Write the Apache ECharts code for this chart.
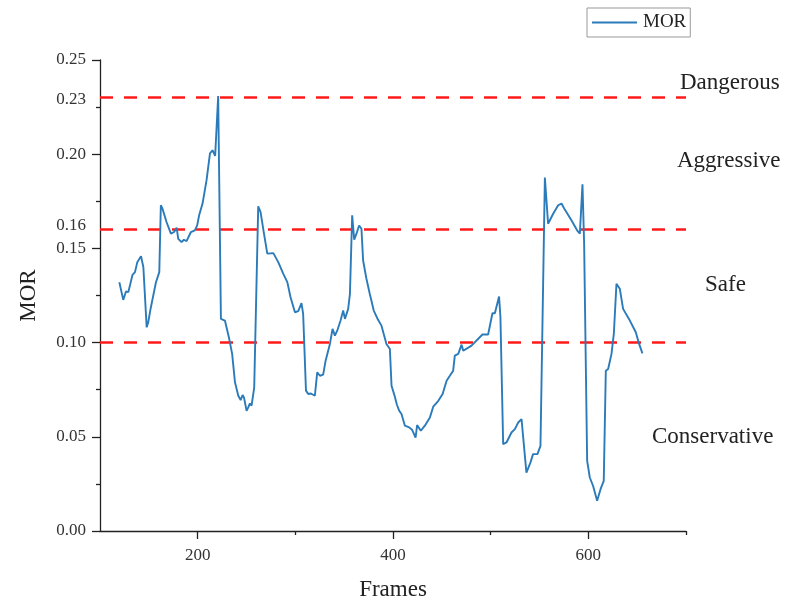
<!DOCTYPE html>
<html>
<head>
<meta charset="utf-8">
<script src="https://cdn.jsdelivr.net/npm/echarts@6/dist/echarts.min.js"></script>
<style>html,body{margin:0;padding:0;background:#fff;}#c{width:789px;height:603px;}</style>
</head>
<body>
<div id="c"></div>
<script>
const frames = [119.8,123.8,126.6,129,133.3,135.8,138.2,142,144.4,147.8,149.4,151.8,153.8,157.3,160.7,162.3,164,168.1,172.6,175.9,178.5,180.1,183.5,185.9,188.6,193.1,197.1,199.5,201.5,205,209.1,212.6,215.2,217.9,221,223.8,227.9,232.3,235.3,238.2,241.6,244,246,247.4,250.1,251.8,253.5,255.2,257.9,262,264.4,267.9,271.3,277.5,282.5,287.7,291.8,295.1,299.6,303,306.3,308,310.9,313.2,315.9,320,322.4,325.2,328.5,331,333,335.4,338.1,340.5,343.2,346.3,349,350.8,354.1,355.9,358.2,360.3,362.6,365.3,367.7,369.4,372.8,376.2,380.3,384.7,388.2,393.3,396.8,398.5,401.5,404,406.4,408.7,412.2,416.6,419.7,423.1,424.7,428.5,432.6,437.8,441.2,446.4,450.8,454.9,458.2,461.6,463.3,465,466.8,468.5,470.2,471.9,480.4,491.6,497.4,501.8,504.3,508.6,510,512.8,516.2,521.3,524.8,528.2,531.6,533.2,536.6,538.3,540.7,543.4,547.9,551,555.5,558.8,564,569.1,572.5,575.9,582.7,588.5,591.3,594,595.7,598.8,601.5,604.9,609,612.5,615.8,617.9,620.3,623.7,626.1,628.8,632.2,635.6,642.5,648.6,652,655.4];
const mor = [0.132,0.1227,0.1271,0.1268,0.136,0.1374,0.1427,0.1459,0.140,0.1081,0.1108,0.118,0.1188,0.132,0.1374,0.1729,0.1711,0.164,0.1578,0.1587,0.161,0.1551,0.1533,0.1546,0.1539,0.1587,0.1596,0.1622,0.1676,0.1738,0.1862,0.2004,0.2021,0.1991,0.2309,0.1126,0.1117,0.102,0.094,0.0789,0.0718,0.0695,0.0722,0.0709,0.0638,0.0656,0.0677,0.0665,0.0762,0.1723,0.1693,0.1578,0.1472,0.1475,0.1427,0.1365,0.1321,0.1241,0.1161,0.1167,0.1209,0.1153,0.0745,0.0727,0.073,0.0718,0.0842,0.0824,0.083,0.0904,0.0913,0.0993,0.1073,0.1037,0.1068,0.1117,0.117,0.1126,0.1179,0.1259,0.1676,0.1546,0.1578,0.1622,0.1604,0.1436,0.1339,0.1259,0.117,0.1121,0.109,0.0993,0.0966,0.0771,0.072,0.067,0.0638,0.0621,0.0559,0.055,0.0536,0.0496,0.0562,0.0532,0.0559,0.0603,0.066,0.0691,0.0727,0.0798,0.0824,0.0851,0.0931,0.0922,0.094,0.0931,0.0989,0.0957,0.0984,0.1043,0.1043,0.1156,0.1156,0.1245,0.1135,0.0461,0.047,0.0523,0.0541,0.0576,0.0594,0.06,0.031,0.0302,0.0363,0.0408,0.0408,0.0452,0.1876,0.1631,0.1684,0.1729,0.1738,0.1706,0.1649,0.1596,0.1578,0.184,0.1525,0.0372,0.0284,0.0239,0.016,0.0222,0.0266,0.0851,0.086,0.094,0.1046,0.1312,0.1286,0.1179,0.1117,0.1055,0.0993,0.0943];
const thresholds = [0.10, 0.162, 0.229];
const yLabelValues = [0, 0.05, 0.10, 0.15, 0.162, 0.20, 0.229, 0.25];
const yMajorTicks = [0, 0.05, 0.10, 0.15, 0.20, 0.25];
const yMinorTicks = [0.025, 0.075, 0.125, 0.175, 0.225];
const xMajorTicks = [200, 400, 600];
const xMinorTicks = [300, 500, 700];
const zoneNames = ['Dangerous', 'Aggressive', 'Safe', 'Conservative'];

const FONT = 'Liberation Serif';
const chart = echarts.init(document.getElementById('c'), null, {renderer: 'canvas'});
const axisLineStyle = {color: '#222', width: 1.3};
const textColor = '#333';
const BLUE = '#2b7bba';

chart.setOption({
  animation: false,
  backgroundColor: '#fff',
  textStyle: {fontFamily: FONT},
  grid: {left: 100, right: 103, top: 60, bottom: 72, containLabel: false, outerBoundsMode: 'none'},
  legend: {
    left: 587, top: 8,
    data: [{name: 'MOR', icon: 'rect'}],
    itemWidth: 45, itemHeight: 2, itemGap: 5,
    padding: [5, 4, 5, 5],
    borderColor: '#999', borderWidth: 1, borderRadius: 0,
    textStyle: {fontFamily: FONT, fontSize: 19, color: '#222', padding: [0, 0, 0, 1], lineHeight: 19}
  },
  xAxis: [
    {
      type: 'value', min: 100, max: 700, interval: 100,
      name: 'Frames', nameLocation: 'middle', nameGap: 47,
      nameTextStyle: {fontFamily: FONT, fontSize: 23, color: '#222'},
      axisLine: {show: true, onZero: false, lineStyle: axisLineStyle},
      axisTick: {show: true, length: 8, customValues: xMajorTicks, lineStyle: axisLineStyle},
      axisLabel: {margin: 16, fontSize: 17, color: textColor, fontFamily: FONT, customValues: xMajorTicks},
      splitLine: {show: false}
    },
    {
      type: 'value', min: 100, max: 700, interval: 100, position: 'bottom',
      axisLine: {show: false},
      axisTick: {show: true, length: 4, customValues: xMinorTicks, lineStyle: axisLineStyle},
      axisLabel: {show: false},
      splitLine: {show: false}
    }
  ],
  yAxis: [
    {
      type: 'value', min: 0, max: 0.25, interval: 0.05,
      name: 'MOR', nameLocation: 'middle', nameGap: 60, nameRotate: 90,
      nameTextStyle: {fontFamily: FONT, fontSize: 23, color: '#222'},
      axisLine: {show: true, onZero: false, lineStyle: axisLineStyle},
      axisTick: {show: true, length: 8, customValues: yMajorTicks, lineStyle: axisLineStyle},
      axisLabel: {
        margin: 14, fontSize: 17, color: textColor, fontFamily: FONT,
        customValues: yLabelValues,
        formatter: v => v.toFixed(2)
      },
      splitLine: {show: false}
    },
    {
      type: 'value', min: 0, max: 0.25, interval: 0.05, position: 'left',
      axisLine: {show: false},
      axisTick: {show: true, length: 4, customValues: yMinorTicks, lineStyle: axisLineStyle},
      axisLabel: {show: false},
      splitLine: {show: false}
    }
  ],
  series: [{
    name: 'MOR',
    type: 'line',
    xAxisIndex: 0, yAxisIndex: 0,
    data: frames.map((f, i) => [f, mor[i]]),
    symbol: 'none', showSymbol: false,
    lineStyle: {color: BLUE, width: 1.9},
    itemStyle: {color: BLUE},
    z: 3,
    markLine: {
      silent: true, symbol: 'none',
      label: {show: false},
      lineStyle: {color: '#ff1a1a', type: [13, 11], width: 2.6},
      data: thresholds.map(t => ({yAxis: t})),
      z: 2
    }
  }],
  graphic: [
    {type: 'text', left: 680, top: 71, style: {text: zoneNames[0], font: '23px "Liberation Serif"', fill: '#222'}},
    {type: 'text', left: 677, top: 149, style: {text: zoneNames[1], font: '23px "Liberation Serif"', fill: '#222'}},
    {type: 'text', left: 705, top: 273, style: {text: zoneNames[2], font: '23px "Liberation Serif"', fill: '#222'}},
    {type: 'text', left: 652, top: 425, style: {text: zoneNames[3], font: '23px "Liberation Serif"', fill: '#222'}}
  ]
});
</script>
</body>
</html>
